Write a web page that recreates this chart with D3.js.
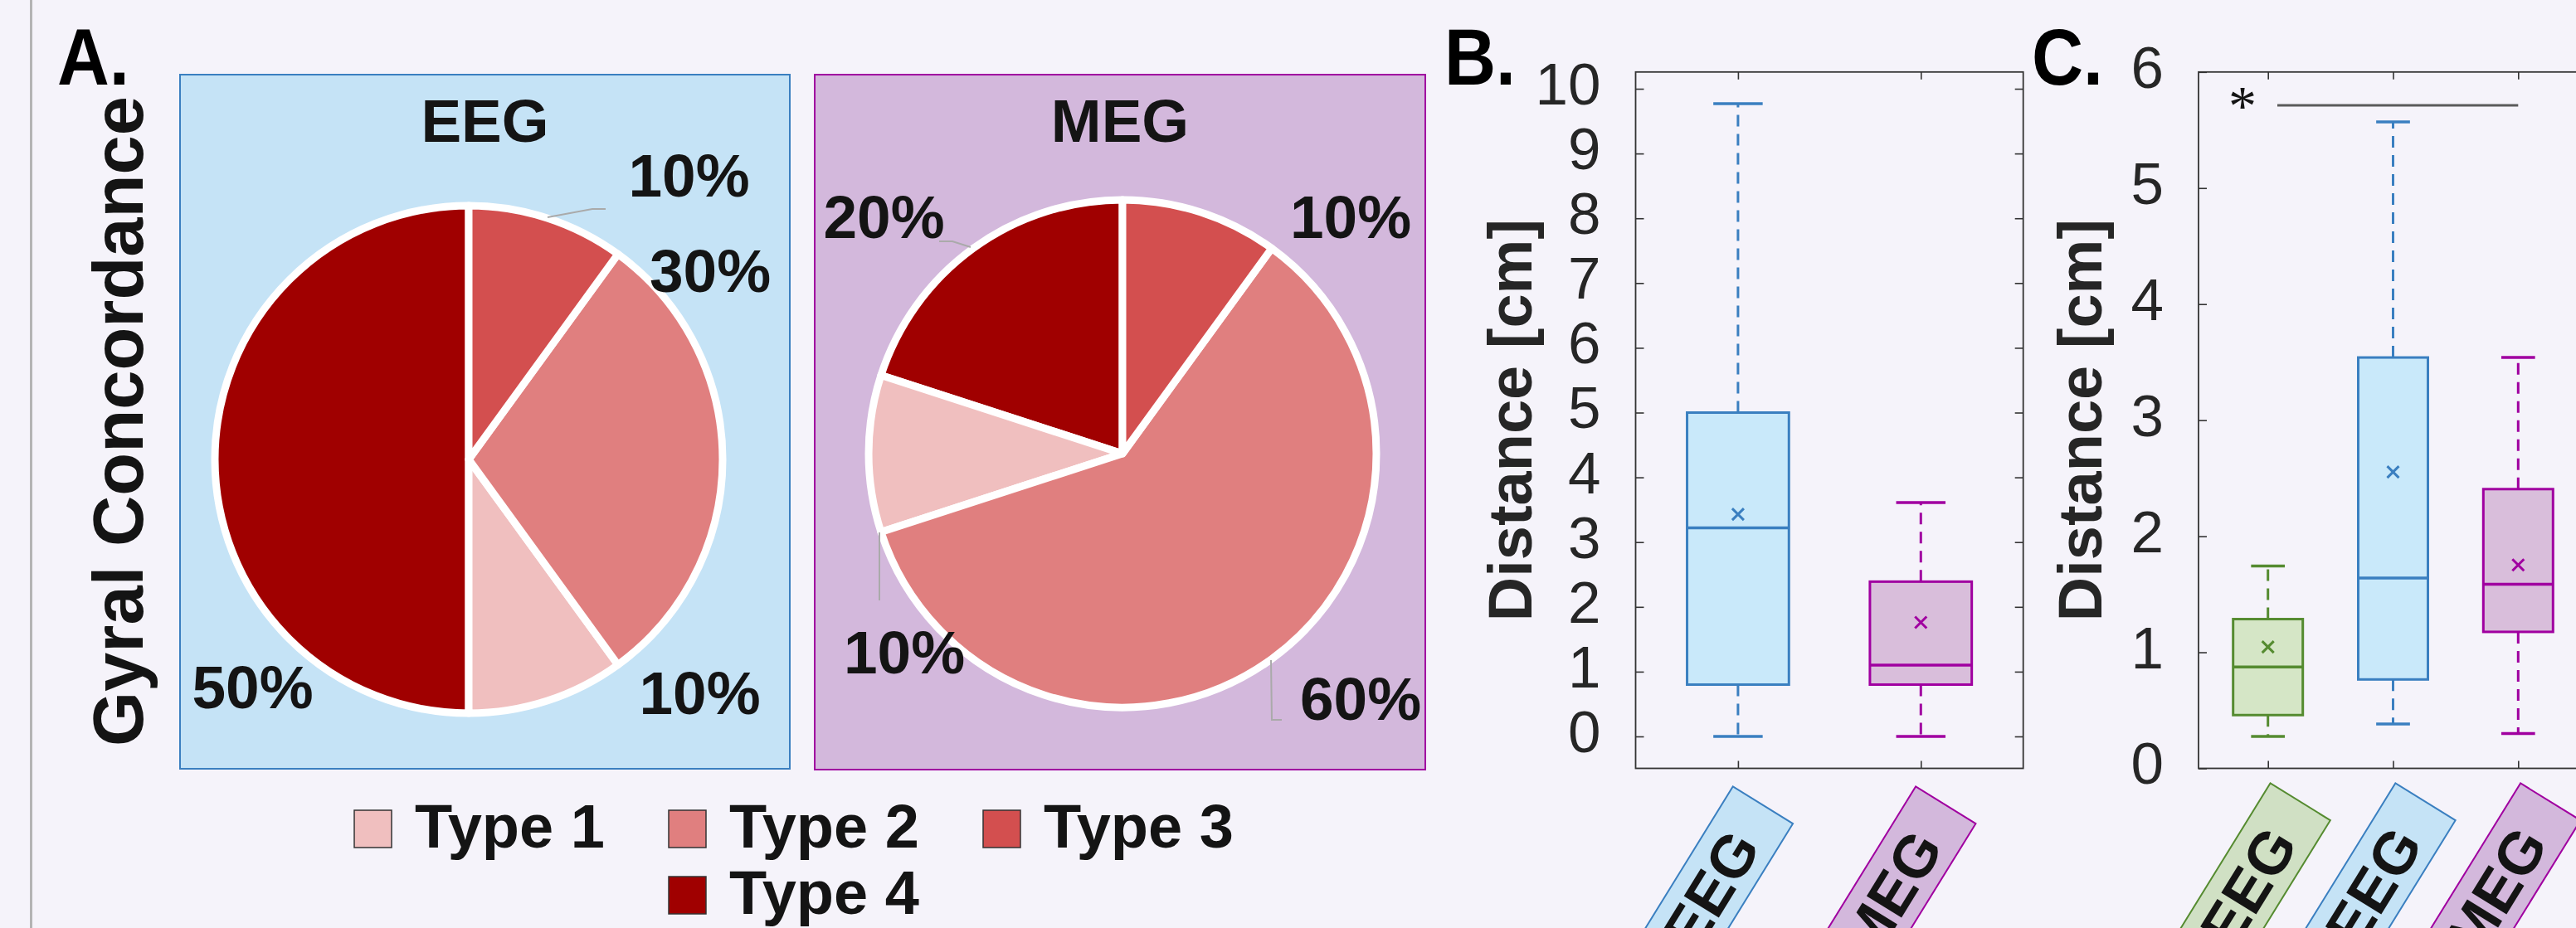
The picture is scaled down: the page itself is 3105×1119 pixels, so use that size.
<!DOCTYPE html>
<html><head><meta charset="utf-8">
<script src="https://cdn.jsdelivr.net/npm/d3@7"></script>
<style>html,body{margin:0;padding:0;background:#f5f3fa;overflow:hidden}svg{display:block}</style>
</head><body>
<script>
// ---------------- DATA ----------------
const pieTypes = ["Type 1", "Type 2", "Type 3", "Type 4"];
const pieColors = ["#f0bfbf", "#e07f7f", "#d34f4f", "#a00000"];
const eegShares = [10, 30, 10, 50];
const megShares = [10, 60, 10, 20];

const catsB = ["EEG", "MEG"];
const minB = [0.0, 0.0];
const q1B = [0.80, 0.80];
const medB = [3.22, 1.10];
const q3B = [5.00, 2.39];
const maxB = [9.77, 3.61];
const meanB = [3.43, 1.76];
const ticksB = [0, 1, 2, 3, 4, 5, 6, 7, 8, 9, 10];

const catsC = ["EEG", "EEG", "MEG"];
const minC = [0.275, 0.382, 0.30];
const q1C = [0.459, 0.766, 1.176];
const medC = [0.874, 1.64, 1.586];
const q3C = [1.286, 3.54, 2.406];
const maxC = [1.744, 5.57, 3.54];
const meanC = [1.046, 2.554, 1.752];
const ticksC = [0, 1, 2, 3, 4, 5, 6];
const sigC = { from: 1.075, to: 3, y: 5.713, label: "*" };

// ---------------- STYLE / LAYOUT ----------------
const W = 3105, H = 1119;
const FONT = "'Liberation Sans', Arial, Helvetica, sans-serif";
const INK = "#141414";
const styleB = [
  { stroke: "#3a7fc0", fill: "#c9e9fa", tag: "#c5e3f6" },
  { stroke: "#a000a0", fill: "#d9bedb", tag: "#d3b8dc" }
];
const styleC = [
  { stroke: "#558b30", fill: "#d5e6c6", tag: "#d0e0c4" },
  { stroke: "#3a7fc0", fill: "#c9e9fa", tag: "#c5e3f6" },
  { stroke: "#a000a0", fill: "#d9bedb", tag: "#d3b8dc" }
];

const svg = d3.select("body").append("svg").attr("width", W).attr("height", H);
svg.append("rect").attr("width", W).attr("height", H).attr("fill", "#f5f3fa");
svg.append("line").attr("x1", 37.5).attr("x2", 37.5).attr("y1", 0).attr("y2", H)
  .attr("stroke", "#b4b4b4").attr("stroke-width", 3);

function panelLetter(txt, x, y, len) {
  svg.append("text").attr("x", x).attr("y", y).attr("font-family", FONT)
    .attr("font-weight", "bold").attr("font-size", 97)
    .attr("textLength", len).attr("lengthAdjust", "spacingAndGlyphs")
    .attr("fill", "#000").text(txt);
}
panelLetter("A.", 69, 102, 87);
panelLetter("B.", 1741, 102, 86);
panelLetter("C.", 2449, 102, 86);

// Panel A y label
svg.append("text").attr("transform", "translate(172,508) rotate(-90)")
  .attr("text-anchor", "middle").attr("font-family", FONT).attr("font-weight", "bold")
  .attr("font-size", 85).attr("fill", INK).text("Gyral Concordance");

// ---------------- PIES ----------------
const pieR = 306;
const piePanels = [
  { name: "EEG", shares: eegShares, box: [217, 90, 952, 927], fill: "#c5e3f6", stroke: "#3a7fc0",
    cx: 565, cy: 554,
    labelPos: [[278.5, 307], [291, -202], [265.5, -317], [-260.5, 300]],
    leaders: [[[95, -292], [149, -302], [165, -302]]] },
  { name: "MEG", shares: megShares, box: [982, 90, 1718, 928], fill: "#d3b8dc", stroke: "#a000a0",
    cx: 1353, cy: 547,
    labelPos: [[-263, 265], [287, 321], [275, -260], [-287.5, -260]],
    leaders: [[[-183, -249], [-205, -256], [-221, -256]], [[-293, 95], [-293, 177]], [[179, 249], [180, 321], [192, 321]]] }
];
// counter-clockwise from 12 o'clock: Type 4, Type 1, Type 2, Type 3
const drawOrder = [3, 0, 1, 2];
const pie = d3.pie().sort(null).value(d => d.v).startAngle(0).endAngle(-2 * Math.PI);
const arc = d3.arc().innerRadius(0).outerRadius(pieR);

piePanels.forEach(p => {
  const [x0, y0, x1, y1] = p.box;
  svg.append("rect").attr("x", x0).attr("y", y0).attr("width", x1 - x0).attr("height", y1 - y0)
    .attr("fill", p.fill).attr("stroke", p.stroke).attr("stroke-width", 2);
  svg.append("text").attr("x", (x0 + x1) / 2).attr("y", 171).attr("text-anchor", "middle")
    .attr("font-family", FONT).attr("font-weight", "bold").attr("font-size", 73)
    .attr("fill", INK).text(p.name);
  const g = svg.append("g").attr("transform", `translate(${p.cx},${p.cy})`);
  const items = drawOrder.map(i => ({ i, v: p.shares[i] }));
  g.selectAll("path.slice").data(pie(items)).join("path").attr("class", "slice")
    .attr("d", arc).attr("fill", d => pieColors[d.data.i])
    .attr("stroke", "#fff").attr("stroke-width", 9).attr("stroke-linejoin", "round");
  p.leaders.forEach(pts => {
    g.append("path").attr("d", d3.line()(pts)).attr("fill", "none")
      .attr("stroke", "#aaaaaa").attr("stroke-width", 2);
  });
  p.shares.forEach((v, i) => {
    g.append("text").attr("x", p.labelPos[i][0]).attr("y", p.labelPos[i][1])
      .attr("text-anchor", "middle").attr("font-family", FONT).attr("font-weight", "bold")
      .attr("font-size", 73).attr("fill", INK).text(v + "%");
  });
});

// Legend
const legX0 = 427, legY0 = 977, colW = 379, rowH = 80, sq = 45, perRow = 3;
const nRows = Math.ceil(pieTypes.length / perRow);
pieTypes.forEach((t, i) => {
  const row = Math.floor(i / perRow), col = i % perRow;
  const inRow = row === nRows - 1 ? pieTypes.length - row * perRow : perRow;
  const x = legX0 + (col + (perRow - inRow) / 2) * colW;
  const y = legY0 + row * rowH;
  svg.append("rect").attr("x", x).attr("y", y).attr("width", sq).attr("height", sq)
    .attr("fill", pieColors[i]).attr("stroke", "#333").attr("stroke-width", 1.5);
  svg.append("text").attr("x", x + 73).attr("y", y + sq).attr("font-family", FONT)
    .attr("font-weight", "bold").attr("font-size", 74).attr("fill", INK).text(t);
});

// ---------------- BOX PLOTS ----------------
const axTop = 86.8, axBottom = 926.5;
function boxPanel(o) {
  const x = d3.scaleLinear().domain(o.xDomain).range(o.xRange);
  const y = d3.scaleLinear().domain(o.yDomain).range([axBottom, axTop]);
  const g = svg.append("g");
  const axColor = "#333";
  const left = g.append("g").attr("transform", `translate(${o.xRange[0]},0)`)
    .call(d3.axisLeft(y).tickValues(o.ticks).tickSize(-10).tickPadding(42).tickFormat(d3.format("d")));
  const right = g.append("g").attr("transform", `translate(${o.xRange[1]},0)`)
    .call(d3.axisRight(y).tickValues(o.ticks).tickSize(-10).tickFormat(""));
  const bot = g.append("g").attr("transform", `translate(0,${axBottom})`)
    .call(d3.axisBottom(x).tickValues(o.cats.map((c, i) => i + 1)).tickSize(-9).tickFormat(""));
  const tp = g.append("g").attr("transform", `translate(0,${axTop})`)
    .call(d3.axisTop(x).tickValues(o.cats.map((c, i) => i + 1)).tickSize(-9).tickFormat(""));
  [left, right, bot, tp].forEach(a => {
    a.select(".domain").remove();
    a.selectAll("line").attr("stroke", axColor).attr("stroke-width", 1.6);
  });
  left.attr("font-family", FONT).attr("font-size", 71);
  left.selectAll("text").attr("fill", "#262626").attr("dy", "0.26em");
  g.append("rect").attr("x", o.xRange[0]).attr("y", axTop).attr("width", o.xRange[1] - o.xRange[0])
    .attr("height", axBottom - axTop).attr("fill", "none").attr("stroke", axColor).attr("stroke-width", 1.8);
  g.append("text").attr("transform", `translate(${o.yLabelX},${(axTop + axBottom) / 2}) rotate(-90)`)
    .attr("text-anchor", "middle").attr("font-family", FONT).attr("font-weight", "bold")
    .attr("font-size", 74).attr("fill", "#262626").text("Distance [cm]");
  const hw = 0.2785, cw = 0.135;
  o.cats.forEach((c, i) => {
    const k = i + 1, s = o.style[i];
    const bx = x(k - hw), bw = x(k + hw) - x(k - hw);
    g.append("line").attr("x1", x(k)).attr("x2", x(k)).attr("y1", y(o.q3[i])).attr("y2", y(o.max[i]))
      .attr("stroke", s.stroke).attr("stroke-width", 3).attr("stroke-dasharray", "14,9");
    g.append("line").attr("x1", x(k)).attr("x2", x(k)).attr("y1", y(o.q1[i])).attr("y2", y(o.min[i]))
      .attr("stroke", s.stroke).attr("stroke-width", 3).attr("stroke-dasharray", "14,9");
    [o.max[i], o.min[i]].forEach(v => {
      g.append("line").attr("x1", x(k - cw)).attr("x2", x(k + cw)).attr("y1", y(v)).attr("y2", y(v))
        .attr("stroke", s.stroke).attr("stroke-width", 3.5);
    });
    g.append("rect").attr("x", bx).attr("y", y(o.q3[i])).attr("width", bw)
      .attr("height", y(o.q1[i]) - y(o.q3[i])).attr("fill", s.fill)
      .attr("stroke", s.stroke).attr("stroke-width", 3);
    g.append("line").attr("x1", bx).attr("x2", bx + bw).attr("y1", y(o.med[i])).attr("y2", y(o.med[i]))
      .attr("stroke", s.stroke).attr("stroke-width", 3.5);
    g.append("path").attr("transform", `translate(${x(k)},${y(o.mean[i])})`)
      .attr("d", "M-7,-7L7,7M-7,7L7,-7").attr("stroke", s.stroke).attr("stroke-width", 3)
      .attr("fill", "none");
    const L = 240, hh = 42.5;
    const tg = g.append("g")
      .attr("transform", `translate(${x(k) + o.tagDx},${axBottom + o.tagDy}) rotate(-58.3)`);
    tg.append("rect").attr("x", -L).attr("y", -hh).attr("width", L).attr("height", 2 * hh)
      .attr("fill", s.tag).attr("stroke", s.stroke).attr("stroke-width", 2);
    tg.append("text").attr("x", -44).attr("y", 26).attr("text-anchor", "end")
      .attr("font-family", FONT).attr("font-weight", "bold").attr("font-size", 72)
      .attr("fill", INK).text(c);
  });
  return { x, y, g };
}

boxPanel({
  cats: catsB, min: minB, q1: q1B, med: medB, q3: q3B, max: maxB, mean: meanB, ticks: ticksB,
  xDomain: [0.44, 2.56], xRange: [1971.5, 2438.7], yDomain: [-0.493, 10.259],
  yLabelX: 1846, style: styleB, tagDx: 30, tagDy: 44.3
});
const pc = boxPanel({
  cats: catsC, min: minC, q1: q1C, med: medC, q3: q3C, max: maxC, mean: meanC, ticks: ticksC,
  xDomain: [0.445, 3.555], xRange: [2650, 3119], yDomain: [0, 6],
  yLabelX: 2533, style: styleC, tagDx: 39, tagDy: 40.3
});
pc.g.append("line").attr("x1", pc.x(sigC.from)).attr("x2", pc.x(sigC.to))
  .attr("y1", pc.y(sigC.y)).attr("y2", pc.y(sigC.y)).attr("stroke", "#5a5a5a").attr("stroke-width", 3);
pc.g.append("text").attr("x", pc.x(sigC.from) - 42).attr("y", pc.y(sigC.y) + 23)
  .attr("text-anchor", "middle").attr("font-family", "'Liberation Serif', 'Times New Roman', serif")
  .attr("font-size", 68).attr("fill", INK).text(sigC.label);
</script>
</body></html>
